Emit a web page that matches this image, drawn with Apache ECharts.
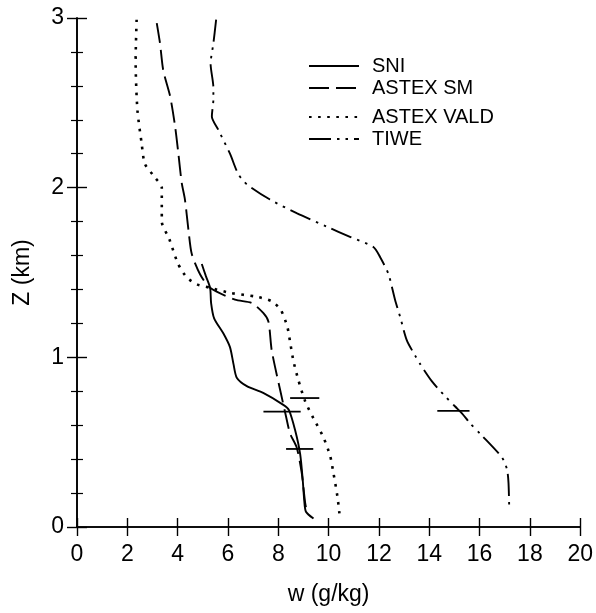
<!DOCTYPE html>
<html>
<head>
<meta charset="utf-8">
<script src="https://cdn.jsdelivr.net/npm/echarts@6/dist/echarts.min.js"></script>
<style>
  html, body { margin: 0; padding: 0; background: #fff; }
  #chart { width: 596px; height: 613px; }
</style>
</head>
<body>
<div id="chart"></div>
<script>
// profiles of w (g/kg) against Z (km), read from top to bottom
const sniW = [4.96, 5.12, 5.29, 5.33, 5.45, 5.82, 6.08, 6.22, 6.35, 6.75, 7.4, 8.2, 8.42, 8.67, 8.87, 8.97, 9.03, 9.1, 9.4]
const sniZ = [1.55, 1.48, 1.41, 1.32, 1.23, 1.14, 1.06, 0.96, 0.88, 0.83, 0.79, 0.72, 0.69, 0.57, 0.43, 0.28, 0.16, 0.09, 0.05]

const smW = [3.17, 3.30, 3.43, 3.70, 3.90, 4.03, 4.16, 4.29, 4.43, 4.56, 4.89, 5.29, 6.28, 6.95, 7.41, 7.61, 7.74, 8.07, 8.31, 8.47, 8.73, 8.93, 9.07, 9.15]
const smZ = [2.97, 2.85, 2.69, 2.54, 2.36, 2.20, 2.03, 1.93, 1.75, 1.61, 1.49, 1.41, 1.34, 1.32, 1.26, 1.21, 1.04, 0.81, 0.65, 0.55, 0.47, 0.32, 0.14, 0.08]

const valdW = [2.37, 2.33, 2.40, 2.57, 2.70, 3.10, 3.37, 3.37, 3.66, 4.02, 4.37, 4.77, 5.29, 6.08, 7.14, 7.74, 8.10, 8.36, 8.47, 8.60, 8.79, 9.07, 9.40, 9.79, 10.06, 10.19, 10.35, 10.43]
const valdZ = [2.99, 2.75, 2.46, 2.26, 2.14, 2.06, 2.0, 1.80, 1.70, 1.55, 1.47, 1.43, 1.41, 1.38, 1.357, 1.33, 1.28, 1.18, 1.09, 0.98, 0.87, 0.74, 0.64, 0.53, 0.42, 0.32, 0.18, 0.08]

const tiweW = [5.53, 5.42, 5.31, 5.42, 5.42, 5.36, 5.62, 6.08, 6.41, 6.75, 7.67, 8.73, 9.93, 10.85, 11.78, 12.05, 12.38, 12.64, 12.84, 13.11, 13.44, 13.64, 14.1, 14.57, 15.03, 15.3, 15.63, 16.02, 16.89, 17.09, 17.15, 17.18]
const tiweZ = [2.99, 2.85, 2.73, 2.59, 2.52, 2.42, 2.34, 2.20, 2.08, 2.02, 1.93, 1.85, 1.77, 1.71, 1.65, 1.59, 1.49, 1.34, 1.24, 1.10, 1.01, 0.96, 0.86, 0.78, 0.71, 0.67, 0.61, 0.55, 0.41, 0.34, 0.26, 0.10]

// horizontal error bars: centre, height, half width
const errW = [9.05, 8.15, 8.85, 14.96]
const errZ = [0.76, 0.68, 0.46, 0.685]
const errHalf = [0.58, 0.74, 0.54, 0.64]

const legendNames = ['SNI', 'ASTEX SM', 'ASTEX VALD', 'TIWE']
const legendTops = [56, 78, 107, 129]

const FONT = '"Liberation Sans", Arial, Helvetica, sans-serif'
const INK = '#000'

function pairs(ws, zs) {
  return ws.map((w, i) => [w, zs[i]])
}

function profile(name, ws, zs, type, width) {
  return {
    name, type: 'line', data: pairs(ws, zs),
    symbol: 'none', showSymbol: false, smooth: 0.25,
    lineStyle: { color: INK, width, type, cap: 'butt' },
    itemStyle: { color: INK },
    silent: true, animation: false,
  }
}

const chart = echarts.init(document.getElementById('chart'))

const hiddenAxis = {
  axisLabel: { show: false },
  splitLine: { show: false },
}

chart.setOption({
  backgroundColor: '#fff',
  animation: false,
  textStyle: { fontFamily: FONT, color: INK },
  grid: { left: 77, right: 15, top: 18, bottom: 86 },
  legend: legendNames.map((n, i) => ({
    data: [n], left: 308, top: legendTops[i], padding: 0,
    itemWidth: 50, itemHeight: 14, selectedMode: false,
    itemStyle: { color: 'transparent', borderColor: 'transparent', opacity: 0 },
    textStyle: { fontFamily: FONT, fontSize: 20, color: INK, padding: [0, 0, 0, 8] },
  })),
  xAxis: [
    {
      type: 'value', min: 0, max: 20, interval: 2,
      name: 'w (g/kg)', nameLocation: 'middle', nameGap: 56,
      nameTextStyle: { fontFamily: FONT, fontSize: 23, color: INK },
      axisLine: { lineStyle: { color: INK, width: 1.6 } },
      axisTick: { inside: true, length: 9, lineStyle: { color: INK, width: 1.4 } },
      axisLabel: { fontFamily: FONT, fontSize: 23, color: INK, margin: 16 },
      splitLine: { show: false },
    },
    {
      type: 'value', min: 0, max: 20, interval: 2, position: 'top',
      axisLine: { show: true, lineStyle: { color: INK, width: 1.6 } },
      axisTick: { show: true, inside: true, length: 9, lineStyle: { color: INK, width: 1.4 } },
      ...hiddenAxis,
    },
  ],
  yAxis: [
    {
      type: 'value', min: 0, max: 3, interval: 1,
      name: 'Z (km)', nameLocation: 'middle', nameGap: 43, nameRotate: 90,
      nameTextStyle: { fontFamily: FONT, fontSize: 23, color: INK },
      axisLine: { lineStyle: { color: INK, width: 1.6 } },
      axisTick: { inside: true, length: 10, lineStyle: { color: INK, width: 1.4 } },
      minorTick: { show: true, splitNumber: 5, length: 6, lineStyle: { color: INK, width: 1.2 } },
      axisLabel: { fontFamily: FONT, fontSize: 23, color: INK, margin: 13 },
      splitLine: { show: false },
    },
    {
      type: 'value', min: 0, max: 3, interval: 1, position: 'right',
      axisLine: { show: true, lineStyle: { color: INK, width: 1.6 } },
      axisTick: { show: true, inside: true, length: 10, lineStyle: { color: INK, width: 1.4 } },
      minorTick: { show: true, splitNumber: 5, length: 6, lineStyle: { color: INK, width: 1.2 } },
      ...hiddenAxis,
    },
  ],
  series: [
    profile('SNI', sniW, sniZ, 'solid', 1.9),
    profile('ASTEX SM', smW, smZ, [20, 7], 1.9),
    profile('ASTEX VALD', valdW, valdZ, [2.6, 6.5], 2.6),
    profile('TIWE', tiweW, tiweZ, [22, 6, 2.5, 6, 2.5, 6], 1.9),
    {
      name: 'err', type: 'custom', silent: true, animation: false,
      data: errW.map((w, i) => [w, errZ[i], errHalf[i]]),
      renderItem: (params, api) => {
        const a = api.coord([api.value(0) - api.value(2), api.value(1)])
        const b = api.coord([api.value(0) + api.value(2), api.value(1)])
        return {
          type: 'line',
          shape: { x1: a[0], y1: a[1], x2: b[0], y2: b[1] },
          style: { stroke: INK, lineWidth: 1.8 },
        }
      },
    },
  ],
})
</script>
</body>
</html>
